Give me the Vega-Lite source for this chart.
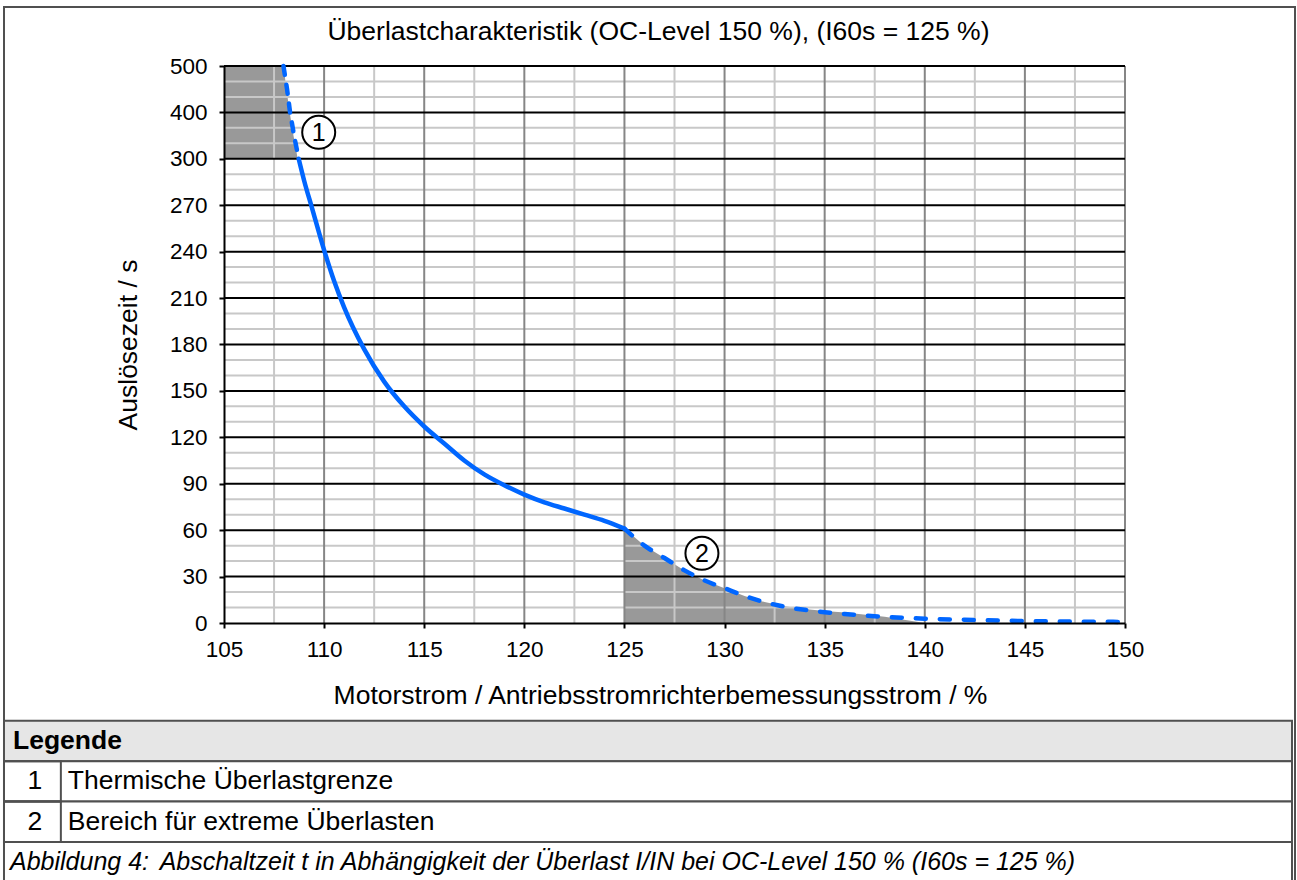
{
  "$schema": "https://vega.github.io/schema/vega-lite/v6.json",
  "width": 901,
  "height": 557,
  "autosize": {"type": "none"},
  "padding": {"left": 224, "top": 66, "right": 172, "bottom": 257},
  "background": "white",
  "config": {"font": "Liberation Sans", "view": {"stroke": null}},
  "title": {
    "text": "Überlastcharakteristik (OC-Level 150 %), (I60s = 125 %)",
    "fontSize": 26.5, "fontWeight": "normal", "color": "black", "font": "Liberation Sans",
    "anchor": "middle", "frame": "group", "dx": -16, "baseline": "alphabetic", "offset": -60
  },
  "datasets": {
    "area1": [
      {"t": 500, "i": 107.97}, {"t": 450, "i": 108.12}, {"t": 400, "i": 108.28}, {"t": 350, "i": 108.47}, {"t": 300, "i": 108.68}
    ],
    "area2": [
      {"i": 125, "t": 61}, {"i": 126, "t": 50}, {"i": 127, "t": 42}, {"i": 128, "t": 34}, {"i": 129, "t": 27.5},
      {"i": 130, "t": 22.5}, {"i": 131, "t": 17.5}, {"i": 132, "t": 13.5}, {"i": 133, "t": 10.8}, {"i": 134, "t": 9},
      {"i": 135, "t": 7.8}, {"i": 136, "t": 6.8}, {"i": 138, "t": 4}, {"i": 140, "t": 0}
    ],
    "curve": [
      {"seg": "d1", "i": 107.97, "t": 500}, {"seg": "d1", "i": 108.15, "t": 450}, {"seg": "d1", "i": 108.3, "t": 400},
      {"seg": "d1", "i": 108.5, "t": 350}, {"seg": "d1", "i": 108.73, "t": 300},
      {"seg": "s", "i": 108.73, "t": 300}, {"seg": "s", "i": 109.0, "t": 286}, {"seg": "s", "i": 109.4, "t": 268},
      {"seg": "s", "i": 110, "t": 241}, {"seg": "s", "i": 110.5, "t": 221}, {"seg": "s", "i": 111, "t": 204},
      {"seg": "s", "i": 112, "t": 177}, {"seg": "s", "i": 113, "t": 156}, {"seg": "s", "i": 114, "t": 140},
      {"seg": "s", "i": 115, "t": 127}, {"seg": "s", "i": 116, "t": 116}, {"seg": "s", "i": 117, "t": 105},
      {"seg": "s", "i": 118, "t": 96}, {"seg": "s", "i": 119, "t": 89}, {"seg": "s", "i": 120, "t": 83},
      {"seg": "s", "i": 121, "t": 78}, {"seg": "s", "i": 122, "t": 74}, {"seg": "s", "i": 123, "t": 70},
      {"seg": "s", "i": 124, "t": 66}, {"seg": "s", "i": 125, "t": 61},
      {"seg": "d2", "i": 125, "t": 61}, {"seg": "d2", "i": 126, "t": 50}, {"seg": "d2", "i": 127, "t": 42},
      {"seg": "d2", "i": 128, "t": 34}, {"seg": "d2", "i": 129, "t": 27.5}, {"seg": "d2", "i": 130, "t": 22.5},
      {"seg": "d2", "i": 131, "t": 17.5}, {"seg": "d2", "i": 132, "t": 13.5}, {"seg": "d2", "i": 133, "t": 10.5},
      {"seg": "d2", "i": 134, "t": 8.5}, {"seg": "d2", "i": 135, "t": 7}, {"seg": "d2", "i": 136, "t": 5.8},
      {"seg": "d2", "i": 137, "t": 4.8}, {"seg": "d2", "i": 138, "t": 4}, {"seg": "d2", "i": 139, "t": 3.3},
      {"seg": "d2", "i": 140, "t": 2.8}, {"seg": "d2", "i": 142, "t": 2.1}, {"seg": "d2", "i": 144, "t": 1.5},
      {"seg": "d2", "i": 146, "t": 1.1}, {"seg": "d2", "i": 148, "t": 0.85}, {"seg": "d2", "i": 150, "t": 0.7}
    ],
    "yMinor": [
      {"v": 10}, {"v": 20}, {"v": 40}, {"v": 50}, {"v": 70}, {"v": 80}, {"v": 100}, {"v": 110}, {"v": 130}, {"v": 140},
      {"v": 160}, {"v": 170}, {"v": 190}, {"v": 200}, {"v": 220}, {"v": 230}, {"v": 250}, {"v": 260}, {"v": 280}, {"v": 290},
      {"v": 333.33}, {"v": 366.67}, {"v": 433.33}, {"v": 466.67}
    ],
    "yMajor": [
      {"v": 30}, {"v": 60}, {"v": 90}, {"v": 120}, {"v": 150}, {"v": 180}, {"v": 210}, {"v": 240}, {"v": 270}, {"v": 300},
      {"v": 400}, {"v": 500}
    ],
    "xMinor": [
      {"v": 107.5}, {"v": 112.5}, {"v": 117.5}, {"v": 122.5}, {"v": 127.5}, {"v": 132.5}, {"v": 137.5}, {"v": 142.5}, {"v": 147.5}
    ],
    "xMajor": [
      {"v": 110}, {"v": 115}, {"v": 120}, {"v": 125}, {"v": 130}, {"v": 135}, {"v": 140}, {"v": 145}, {"v": 150}
    ],
    "marks": [
      {"n": "1", "i": 109.73, "t": 357},
      {"n": "2", "i": 128.87, "t": 45}
    ],
    "table": [
      {"row": "h", "label": "Legende"},
      {"row": "r1", "num": "1", "label": "Thermische Überlastgrenze"},
      {"row": "r2", "num": "2", "label": "Bereich für extreme Überlasten"},
      {"row": "cap", "num": "Abbildung 4:", "label": "Abschaltzeit t in Abhängigkeit der Überlast I/IN bei OC-Level 150 % (I60s = 125 %)"}
    ],
    "frame": [{"f": "box"}]
  },
  "layer": [
    {
      "layer": [
        {
          "data": {"name": "area1"},
          "mark": {"type": "area", "orient": "horizontal", "color": "#999999"},
          "encoding": {
            "y": {
              "field": "t", "type": "quantitative",
              "scale": {"domain": [0, 300, 500], "range": [557, 92.8, 0], "nice": false, "zero": false},
              "axis": {
                "values": [0, 30, 60, 90, 120, 150, 180, 210, 240, 270, 300, 400, 500],
                "grid": false, "zindex": 1,
                "domainColor": "black", "domainWidth": 2,
                "tickColor": "black", "tickWidth": 2, "tickSize": 5,
                "labelFontSize": 22.5, "labelColor": "black", "labelPadding": 12, "labelFont": "Liberation Sans",
                "labelFlush": false, "labelOverlap": false,
                "title": "Auslösezeit / s", "titleFontSize": 26.5, "titleFontWeight": "normal", "titleColor": "black",
                "titleFont": "Liberation Sans",
                "titleX": -88, "titleY": 278.5, "titleBaseline": "alphabetic", "titleAngle": 270, "titleAlign": "center"
              }
            },
            "x": {
              "field": "i", "type": "quantitative",
              "scale": {"domain": [105, 150], "nice": false, "zero": false},
              "axis": {
                "values": [105, 110, 115, 120, 125, 130, 135, 140, 145, 150],
                "grid": false, "zindex": 1,
                "domainColor": "black", "domainWidth": 2,
                "tickColor": "black", "tickWidth": 2, "tickSize": 5,
                "labelFontSize": 22.5, "labelColor": "black", "labelPadding": 10, "labelFont": "Liberation Sans",
                "labelFlush": false, "labelOverlap": false,
                "title": "Motorstrom / Antriebsstromrichterbemessungsstrom / %", "titleFontSize": 26.5,
                "titleFontWeight": "normal", "titleColor": "black", "titleFont": "Liberation Sans",
                "titleX": 436, "titleY": 80, "titleBaseline": "alphabetic", "titleAlign": "center"
              }
            },
            "x2": {"datum": 105}
          }
        },
        {
          "data": {"name": "area2"},
          "mark": {"type": "area", "color": "#999999"},
          "encoding": {
            "x": {"field": "i", "type": "quantitative"},
            "y": {"field": "t", "type": "quantitative"},
            "y2": {"datum": 0}
          }
        },
        {
          "data": {"name": "yMinor"},
          "mark": {"type": "rule", "color": "#c8c8c8", "strokeWidth": 2},
          "encoding": {"y": {"field": "v", "type": "quantitative"}}
        },
        {
          "data": {"name": "xMinor"},
          "mark": {"type": "rule", "color": "#c8c8c8", "strokeWidth": 2},
          "encoding": {"x": {"field": "v", "type": "quantitative"}}
        },
        {
          "data": {"name": "xMajor"},
          "mark": {"type": "rule", "color": "#868686", "strokeWidth": 2},
          "encoding": {"x": {"field": "v", "type": "quantitative"}}
        },
        {
          "data": {"name": "yMajor"},
          "mark": {"type": "rule", "color": "black", "strokeWidth": 2},
          "encoding": {"y": {"field": "v", "type": "quantitative"}}
        },
        {
          "data": {"name": "curve"},
          "transform": [{"filter": "datum.seg === 's'"}],
          "mark": {"type": "line", "color": "#0066ff", "strokeWidth": 4.5, "strokeCap": "round", "interpolate": "monotone"},
          "encoding": {
            "x": {"field": "i", "type": "quantitative"},
            "y": {"field": "t", "type": "quantitative"},
            "order": {"field": "i"}
          }
        },
        {
          "data": {"name": "curve"},
          "transform": [{"filter": "datum.seg === 'd1'"}],
          "mark": {"type": "line", "color": "#0066ff", "strokeWidth": 4.5, "strokeCap": "round", "strokeDash": [9, 10]},
          "encoding": {
            "x": {"field": "i", "type": "quantitative"},
            "y": {"field": "t", "type": "quantitative"},
            "order": {"field": "i"}
          }
        },
        {
          "data": {"name": "curve"},
          "transform": [{"filter": "datum.seg === 'd2'"}],
          "mark": {"type": "line", "color": "#0066ff", "strokeWidth": 4.5, "strokeCap": "round", "strokeDash": [10, 14], "interpolate": "monotone"},
          "encoding": {
            "x": {"field": "i", "type": "quantitative"},
            "y": {"field": "t", "type": "quantitative"},
            "order": {"field": "i"}
          }
        },
        {
          "data": {"name": "marks"},
          "mark": {"type": "point", "shape": "circle", "filled": true, "fill": "white", "stroke": "black", "strokeWidth": 2, "size": 1089, "opacity": 1},
          "encoding": {
            "x": {"field": "i", "type": "quantitative"},
            "y": {"field": "t", "type": "quantitative"}
          }
        },
        {
          "data": {"name": "marks"},
          "mark": {"type": "text", "fontSize": 25, "color": "black", "align": "center", "baseline": "middle", "dy": 1},
          "encoding": {
            "x": {"field": "i", "type": "quantitative"},
            "y": {"field": "t", "type": "quantitative"},
            "text": {"field": "n"}
          }
        }
      ]
    },
    {
      "data": {"name": "frame"},
      "mark": {"type": "rect", "filled": false, "stroke": "#505050", "strokeWidth": 2},
      "encoding": {
        "x": {"datum": 4, "type": "quantitative", "scale": {"domain": [0, 1297], "range": [-224, 1073]}, "axis": null},
        "x2": {"datum": 1295},
        "y": {"datum": 7, "type": "quantitative", "scale": {"domain": [0, 880], "range": [-66, 814]}, "axis": null},
        "y2": {"datum": 883}
      }
    },
    {
      "data": {"name": "table"},
      "layer": [
        {
          "mark": {"type": "rect", "stroke": "#505050", "strokeWidth": 2},
          "encoding": {
            "x": {"datum": 4, "type": "quantitative", "scale": {"domain": [0, 1297], "range": [-224, 1073]}, "axis": null},
            "x2": {"datum": 1295},
            "y": {"field": "row", "type": "ordinal", "scale": {"type": "band", "domain": ["h", "r1", "r2", "cap"], "range": [654.7, 816.5], "paddingInner": 0, "paddingOuter": 0}, "axis": null},
            "fill": {"condition": {"test": "datum.row === 'h'", "value": "#e6e6e6"}, "value": "white"}
          }
        },
        {
          "transform": [{"filter": "datum.row === 'r1' || datum.row === 'r2'"}],
          "mark": {"type": "rect", "filled": false, "stroke": "#505050", "strokeWidth": 2},
          "encoding": {
            "x": {"datum": 4, "type": "quantitative"},
            "x2": {"datum": 61},
            "y": {"field": "row", "type": "ordinal"}
          }
        },
        {
          "transform": [{"filter": "datum.row === 'h'"}],
          "mark": {"type": "text", "fontSize": 26.5, "fontWeight": "bold", "color": "black", "align": "left", "baseline": "middle"},
          "encoding": {
            "x": {"datum": 13, "type": "quantitative"},
            "y": {"field": "row", "type": "ordinal"},
            "text": {"field": "label"}
          }
        },
        {
          "transform": [{"filter": "datum.row === 'r1' || datum.row === 'r2'"}],
          "mark": {"type": "text", "fontSize": 26.5, "color": "black", "align": "center", "baseline": "middle"},
          "encoding": {
            "x": {"datum": 35, "type": "quantitative"},
            "y": {"field": "row", "type": "ordinal"},
            "text": {"field": "num"}
          }
        },
        {
          "transform": [{"filter": "datum.row === 'r1' || datum.row === 'r2'"}],
          "mark": {"type": "text", "fontSize": 26.5, "color": "black", "align": "left", "baseline": "middle"},
          "encoding": {
            "x": {"datum": 68, "type": "quantitative"},
            "y": {"field": "row", "type": "ordinal"},
            "text": {"field": "label"}
          }
        },
        {
          "transform": [{"filter": "datum.row === 'cap'"}],
          "mark": {"type": "text", "fontSize": 25, "fontStyle": "italic", "color": "black", "align": "left", "baseline": "middle"},
          "encoding": {
            "x": {"datum": 10, "type": "quantitative"},
            "y": {"field": "row", "type": "ordinal"},
            "text": {"field": "num"}
          }
        },
        {
          "transform": [{"filter": "datum.row === 'cap'"}],
          "mark": {"type": "text", "fontSize": 25, "fontStyle": "italic", "color": "black", "align": "left", "baseline": "middle"},
          "encoding": {
            "x": {"datum": 160, "type": "quantitative"},
            "y": {"field": "row", "type": "ordinal"},
            "text": {"field": "label"}
          }
        }
      ]
    }
  ],
  "resolve": {"scale": {"x": "independent", "y": "independent"}}
}
